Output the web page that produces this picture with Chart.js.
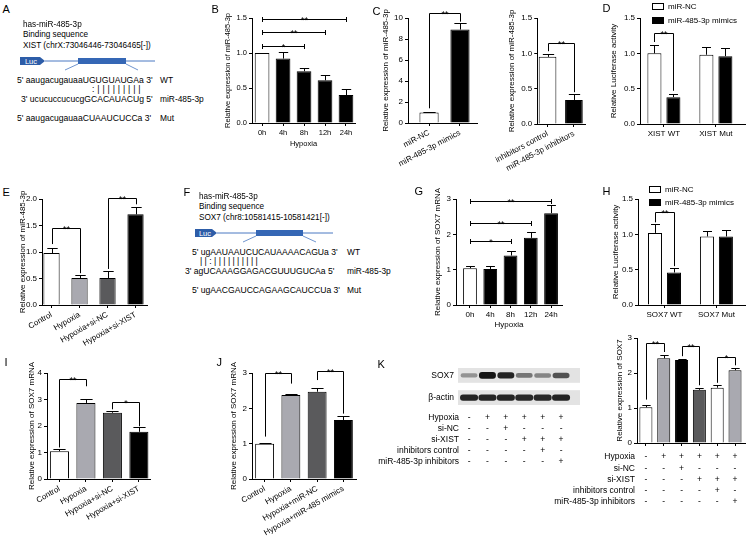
<!DOCTYPE html>
<html lang="en">
<head>
<meta charset="UTF-8">
<title>miR-485-3p / XIST / SOX7 figure</title>
<script src="https://cdn.jsdelivr.net/npm/chart.js"></script>
<style>
  body { margin: 0; background: #fff; }
  #fig { position: relative; width: 750px; height: 539px; overflow: hidden; background: #fff;
         font-family: "Liberation Sans", Arial, sans-serif; color: #000; }
  #fig canvas { position: absolute; }
  .t { position: absolute; white-space: nowrap; line-height: 1; }
  svg { position: absolute; left: 0; top: 0; }
</style>
</head>
<body>
<div id="fig">
  <svg width="750" height="539" font-family="Liberation Sans, Arial, sans-serif">
    <!-- A construct -->
    <line x1="45" y1="61" x2="155" y2="61" stroke="#4a78c2" stroke-width="1"/>
    <rect x="78" y="58" width="48" height="6" fill="#3567b5"/>
    <line x1="78" y1="64" x2="65" y2="70" stroke="#4a78c2" stroke-width="0.8"/>
    <line x1="126" y1="64" x2="138" y2="70" stroke="#4a78c2" stroke-width="0.8"/>
    <polygon points="20,57 40,57 45,61 40,65 20,65" fill="#2d5da8"/>
    <text x="31" y="63.8" font-size="7.5" fill="#fff" text-anchor="middle">Luc</text>
    <!-- F construct -->
    <line x1="217" y1="233" x2="333" y2="233" stroke="#4a78c2" stroke-width="1"/>
    <rect x="256" y="230" width="47" height="6" fill="#3567b5"/>
    <line x1="256" y1="236" x2="243" y2="242" stroke="#4a78c2" stroke-width="0.8"/>
    <line x1="303" y1="236" x2="316" y2="242" stroke="#4a78c2" stroke-width="0.8"/>
    <polygon points="195,229 212,229 217,233 212,237 195,237" fill="#2d5da8"/>
    <text x="205" y="235.8" font-size="7.5" fill="#fff" text-anchor="middle">Luc</text>
  </svg>
</div>
<script>
// ---------------- data ----------------
const WHITE = '#ffffff', LIGHT = '#a9a9b0', DARK = '#5a5a5c', BLACK = '#000000';

// B: miR-485-3p over hypoxia time
const bCats = ['0h', '4h', '8h', '12h', '24h'];
const bMean = [1.00, 0.92, 0.74, 0.61, 0.40];
const bErr = [0, 0.10, 0.05, 0.08, 0.09];
const bTicks = [0, 0.5, 1.0, 1.5];
const bSig = [
  { a: 0, b: 2, y: 1.10, t: '*' },
  { a: 0, b: 3, y: 1.30, t: '**' },
  { a: 0, b: 4, y: 1.49, t: '**' }
];

// C (left): mimics
const c1Cats = ['miR-NC', 'miR-485-3p mimics'];
const c1Mean = [1.0, 8.9];
const c1Err = [0.08, 0.6];
const c1Ticks = [0, 2, 4, 6, 8, 10];
const c1Sig = [{ a: 0, b: 1, y: 10.5, la: 1.4, lb: 9.65, t: '**' }];

// C (right): inhibitors
const c2Cats = ['inhibitors control', 'miR-485-3p inhibitors'];
const c2Mean = [0.95, 0.34];
const c2Err = [0.04, 0.08];
const c2Ticks = [0, 0.5, 1.0, 1.5];
const c2Sig = [{ a: 0, b: 1, y: 1.15, la: 1.03, lb: 0.45, t: '**' }];

// D: XIST luciferase
const dCats = ['XIST WT', 'XIST Mut'];
const dNC = [1.00, 0.98];
const dNCErr = [0.12, 0.11];
const dMim = [0.38, 0.96];
const dMimErr = [0.05, 0.11];
const lucTicks = [0, 0.5, 1.0, 1.5];
const dSig = [{ a: [0, 0], b: [1, 0], y: 1.29, la: 1.16, lb: 0.47, t: '**' }];

// E: miR-485-3p with si-XIST
const eCats = ['Control', 'Hypoxia', 'Hypoxia+si-NC', 'Hypoxia+si-XIST'];
const eMean = [0.98, 0.51, 0.51, 1.71];
const eErr = [0.09, 0.05, 0.13, 0.14];
const eTicks = [0, 0.5, 1.0, 1.5, 2.0];
const eSig = [
  { a: 0, b: 1, y: 1.45, la: 1.15, lb: 0.60, t: '**' },
  { a: 2, b: 3, y: 2.02, la: 0.68, lb: 1.90, t: '**' }
];

// G: SOX7 mRNA over hypoxia time
const gCats = ['0h', '4h', '8h', '12h', '24h'];
const gMean = [1.04, 1.02, 1.40, 1.90, 2.60];
const gErr = [0.06, 0.07, 0.13, 0.16, 0.22];
const gTicks = [0, 1, 2, 3];
const gSig = [
  { a: 0, b: 2, y: 1.80, t: '*' },
  { a: 0, b: 3, y: 2.33, t: '**' },
  { a: 0, b: 4, y: 2.95, t: '**' }
];

// H: SOX7 luciferase
const hCats = ['SOX7 WT', 'SOX7 Mut'];
const hNC = [1.02, 0.97];
const hNCErr = [0.12, 0.08];
const hMim = [0.46, 0.97];
const hMimErr = [0.06, 0.09];
const hSig = [{ a: [0, 0], b: [1, 0], y: 1.32, la: 1.17, lb: 0.55, t: '**' }];

// I: SOX7 mRNA with si-XIST
const iCats = ['Control', 'Hypoxia', 'Hypoxia+si-NC', 'Hypoxia+si-XIST'];
const iMean = [1.05, 2.87, 2.50, 1.78];
const iErr = [0.10, 0.16, 0.07, 0.20];
const iTicks = [0, 1, 2, 3, 4];
const iSig = [
  { a: 0, b: 1, y: 3.78, la: 1.19, lb: 3.50, t: '**' },
  { a: 2, b: 3, y: 2.90, la: 2.63, lb: 1.99, t: '*' }
];

// J: SOX7 mRNA with miR-485 mimics
const jCats = ['Control', 'Hypoxia', 'Hypoxia+miR-NC', 'Hypoxia+miR-485 mimics'];
const jMean = [1.00, 2.38, 2.47, 1.67];
const jErr = [0.03, 0.03, 0.10, 0.10];
const jTicks = [0, 1, 2, 3];
const jSig = [
  { a: 0, b: 1, y: 3.00, la: 1.20, lb: 2.70, t: '**' },
  { a: 2, b: 3, y: 3.05, la: 2.80, lb: 1.85, t: '**' }
];

// K: SOX7 protein
const kMean = [1.02, 2.42, 2.37, 1.52, 1.58, 2.08];
const kErr = [0.08, 0.10, 0.03, 0.06, 0.09, 0.07];
const kTicks = [0, 1, 2, 3];
const kSig = [
  { a: 0, b: 1, y: 2.86, la: 1.24, lb: 2.60, t: '**' },
  { a: 2, b: 3, y: 2.76, la: 2.48, lb: 1.65, t: '**' },
  { a: 4, b: 5, y: 2.45, la: 1.72, lb: 2.22, t: '*' }
];
const kRowNames = ['Hypoxia', 'si-NC', 'si-XIST', 'inhibitors control', 'miR-485-3p inhibitors'];
const kSigns = [
  ['-', '+', '+', '+', '+', '+'],
  ['-', '-', '+', '-', '-', '-'],
  ['-', '-', '-', '+', '+', '+'],
  ['-', '-', '-', '-', '+', '-'],
  ['-', '-', '-', '-', '-', '+']
];
// western blot band strength per lane (0..1)
const sox7Level = [0.35, 1.00, 0.92, 0.50, 0.42, 0.68];
const actinLevel = [0.92, 0.92, 0.92, 0.90, 0.90, 0.92];

// ---------------- helpers ----------------
const FONT = '"Liberation Sans", Arial, sans-serif';
Chart.defaults.font.family = FONT;
Chart.defaults.font.size = 8;
Chart.defaults.color = '#000';
Chart.defaults.animation = false;

const fig = document.getElementById('fig');
const decoMap = {};
let nCanvas = 0;

function makeCanvas(left, top, w, h) {
  const c = document.createElement('canvas');
  c.id = 'cv' + (nCanvas++);
  c.width = w; c.height = h;
  c.style.left = left + 'px'; c.style.top = top + 'px';
  c.style.width = w + 'px'; c.style.height = h + 'px';
  fig.appendChild(c);
  return c;
}

function text(x, cy, s, size, extra) {
  const d = document.createElement('div');
  d.className = 't';
  d.textContent = s;
  d.style.left = x + 'px';
  d.style.top = (cy - size * 0.52) + 'px';
  d.style.fontSize = size + 'px';
  if (extra) Object.assign(d.style, extra);
  fig.appendChild(d);
}

function barX(chart, ref) {
  const [ds, i] = Array.isArray(ref) ? ref : [0, ref];
  return chart.getDatasetMeta(ds).data[i].x;
}

const decoPlugin = {
  id: 'deco',
  beforeDatasetsDraw(chart) {
    const d = decoMap[chart.canvas.id];
    if (!d || !d.strips) return;
    const ctx = chart.ctx, ys = chart.scales.y, area = chart.chartArea;
    ctx.save();
    ctx.fillStyle = d.stripColor;
    d.strips.forEach(([lo, hi]) => {
      const y1 = ys.getPixelForValue(hi), y2 = ys.getPixelForValue(lo);
      ctx.fillRect(area.left, y1, area.right - area.left, y2 - y1);
    });
    ctx.restore();
    ctx.save();
    ctx.filter = 'blur(0.7px)';
  },
  afterDatasetsDraw(chart) {
    const d = decoMap[chart.canvas.id];
    if (!d) return;
    const ctx = chart.ctx, ys = chart.scales.y;
    if (d.strips) ctx.restore();
    ctx.save();
    ctx.strokeStyle = '#000';
    ctx.fillStyle = '#000';
    ctx.lineWidth = 1;

    // error bars (upper half only, as in the original)
    chart.data.datasets.forEach((ds, di) => {
      if (!ds.errors) return;
      chart.getDatasetMeta(di).data.forEach((bar, i) => {
        const e = ds.errors[i];
        if (!e) return;
        const x = Math.round(bar.x) + 0.5;
        const top = Math.round(ys.getPixelForValue(ds.data[i].y + e)) + 0.5;
        const cap = bar.width * 0.32;
        ctx.beginPath();
        ctx.moveTo(x, bar.y); ctx.lineTo(x, top);
        ctx.moveTo(x - cap, top); ctx.lineTo(x + cap, top);
        ctx.stroke();
      });
    });

    // significance brackets
    (d.sig || []).forEach(s => {
      const xa = Math.round(barX(chart, s.a)) + 0.5;
      const xb = Math.round(barX(chart, s.b)) + 0.5;
      const y = Math.round(ys.getPixelForValue(s.y)) + 0.5;
      ctx.beginPath();
      if (s.la !== undefined) {
        ctx.moveTo(xa, ys.getPixelForValue(s.la));
        ctx.lineTo(xa, y); ctx.lineTo(xb, y);
        ctx.lineTo(xb, ys.getPixelForValue(s.lb));
      } else {
        ctx.moveTo(xa, y); ctx.lineTo(xb, y);
        ctx.moveTo(xa, y - 2.5); ctx.lineTo(xa, y + 2.5);
        ctx.moveTo(xb, y - 2.5); ctx.lineTo(xb, y + 2.5);
      }
      ctx.stroke();
      ctx.font = '9px ' + FONT;
      ctx.textAlign = 'center';
      ctx.textBaseline = 'alphabetic';
      ctx.fillText(s.t, (xa + xb) / 2, y + 3);
    });

    // legend list
    if (d.legend) {
      ctx.font = '8px ' + FONT;
      ctx.textAlign = 'left';
      ctx.textBaseline = 'middle';
      chart.data.datasets.forEach((ds, i) => {
        const bx = d.legend.x - d.left + 0.5;
        const by = Math.round(d.legend.y + i * d.legend.dy - d.top);
        ctx.fillStyle = ds.backgroundColor[0];
        ctx.fillRect(bx, by - 3, 11, 7);
        ctx.strokeRect(bx, by - 2.5, 11, 6);
        ctx.fillStyle = '#000';
        ctx.fillText(ds.label, d.legend.x - d.left + 16, by + 0.5);
      });
    }

    // row labels (blot)
    if (d.rowLabels) {
      ctx.font = '8.5px ' + FONT;
      ctx.textAlign = 'right';
      ctx.textBaseline = 'middle';
      d.rowLabels.forEach(r => ctx.fillText(r.text, d.labelRight - d.left, r.y - d.top));
    }

    // +/- treatment table
    if (d.table) {
      const tb = d.table, xs = chart.scales.x;
      ctx.font = '8.5px ' + FONT;
      ctx.textBaseline = 'middle';
      tb.names.forEach((name, r) => {
        const y = tb.ys[r] - d.top;
        ctx.textAlign = 'right';
        ctx.fillText(name, tb.right - d.left, y);
        ctx.textAlign = 'center';
        tb.signs[r].forEach((sg, c) => ctx.fillText(sg, xs.getPixelForValue(c), y));
      });
    }
    ctx.restore();
  }
};
Chart.register(decoPlugin);

function barPanel(o) {
  const [l, t, r, b] = o.plot;
  const fs = o.fs || 8;
  const lh = fs * 1.2;
  const padL = o.padL ?? 3, padT = o.padT ?? 14, padR = o.padR ?? 3, padB = o.padB ?? 3;
  const left = Math.round(o.titleX - lh / 2) - padL;
  const top = t - padT;
  const yW = l - left - padL;
  const w = r + padR - left, h = b + o.xH + padB - top;
  const canvas = makeCanvas(left, top, w, h);
  decoMap[canvas.id] = { left, top, sig: o.sig, legend: o.legend, table: o.table };

  const datasets = o.series.map(s => ({
    label: s.label || '',
    data: s.values.map((v, i) => ({ x: i, y: v })),
    errors: s.errors,
    backgroundColor: s.colors,
    borderColor: '#000',
    borderWidth: 1,
    categoryPercentage: o.catPct ?? 1,
    barPercentage: o.barPct
  }));

  new Chart(canvas, {
    type: 'bar',
    data: { datasets },
    options: {
      responsive: false,
      animation: false,
      layout: { padding: { left: padL, top: padT, right: padR, bottom: padB } },
      plugins: { legend: { display: false }, tooltip: { enabled: false } },
      scales: {
        x: {
          type: 'linear',
          min: o.xRange[0], max: o.xRange[1],
          offset: false,
          afterBuildTicks: s => { s.ticks = o.cats.map((c, i) => ({ value: i })); },
          afterFit: s => { s.height = o.xH; },
          ticks: {
            autoSkip: false,
            maxRotation: o.rot || 0, minRotation: o.rot || 0,
            padding: 2,
            font: { size: fs },
            callback: (v, i) => o.cats[i]
          },
          grid: { drawOnChartArea: false, offset: false, color: '#000', tickLength: 3 },
          border: { color: '#000', width: 1 },
          title: o.xTitle ? { display: true, text: o.xTitle, padding: 0, font: { size: fs } } : { display: false }
        },
        y: {
          min: 0, max: o.ticks[o.ticks.length - 1],
          afterBuildTicks: s => { s.ticks = o.ticks.map(v => ({ value: v })); },
          afterFit: s => { s.width = yW; },
          ticks: { padding: 2, font: { size: fs }, callback: v => v.toFixed(o.dec) },
          grid: { drawOnChartArea: false, color: '#000', tickLength: 3 },
          border: { color: '#000', width: 1 },
          title: { display: true, text: o.yTitle, padding: 0, font: { size: fs } }
        }
      }
    }
  });
}

function blotPanel() {
  const l = 458, t = 368, r = 580, b = 405;
  const left = 366, top = 360, w = 220, h = 110;
  const canvas = makeCanvas(left, top, w, h);
  decoMap[canvas.id] = {
    left, top,
    strips: [[0, 2], [3, 5]], stripColor: '#e3e3e3',
    rowLabels: [{ text: 'SOX7', y: 375.5 }, { text: '\u03b2-actin', y: 397.5 }],
    labelRight: 454,
    table: { names: kRowNames, signs: kSigns, ys: [418, 429, 440, 451, 462], right: 459 }
  };
  const shade = v => { const g = Math.round(215 - 195 * v); return `rgb(${g},${g},${g})`; };
  const band = (level, center) => level.map((v, i) => {
    const half = 0.2 + 0.25 * v;
    return { x: i, y: [center - half, center + half] };
  });
  new Chart(canvas, {
    type: 'bar',
    data: {
      datasets: [
        { data: band(sox7Level, 4), backgroundColor: sox7Level.map(shade), borderWidth: 0,
          borderRadius: 3, borderSkipped: false, grouped: false, categoryPercentage: 1, barPercentage: 0.92 },
        { data: band(actinLevel, 1), backgroundColor: actinLevel.map(shade), borderWidth: 0,
          borderRadius: 3, borderSkipped: false, grouped: false, categoryPercentage: 1, barPercentage: 0.98 }
      ]
    },
    options: {
      responsive: false,
      animation: false,
      layout: { padding: { left: l - left, top: t - top, right: left + w - r, bottom: top + h - b } },
      plugins: { legend: { display: false }, tooltip: { enabled: false } },
      scales: {
        x: { type: 'linear', display: false, min: -0.6, max: 6.03, offset: false },
        y: { display: false, min: 0, max: 5 }
      }
    }
  });
}

// ---------------- panels ----------------
const relMiR = 'Relative expression of miR-485-3p';
const relSox = 'Relative expression of SOX7 mRNA';
const relLuc = 'Relative Luciferase activity';

barPanel({ plot: [252, 18, 355, 123], titleX: 227, fs: 7.5, yTitle: relMiR, ticks: bTicks, dec: 1,
  cats: bCats, xRange: [-0.48, 4.43], barPct: 0.7, xH: 25, xTitle: 'Hypoxia',
  series: [{ values: bMean, errors: bErr, colors: [WHITE, BLACK, BLACK, BLACK, BLACK] }], sig: bSig });

barPanel({ plot: [408, 18, 477, 123], titleX: 386, yTitle: relMiR, ticks: c1Ticks, dec: 0,
  cats: c1Cats, xRange: [-0.68, 1.55], barPct: 0.62, rot: 28, xH: 46,
  series: [{ values: c1Mean, errors: c1Err, colors: [WHITE, BLACK] }], sig: c1Sig });

barPanel({ plot: [520, 18, 585, 124], titleX: 495, yTitle: relMiR, ticks: c2Ticks, dec: 1,
  cats: c2Cats, xRange: [-0.39, 1.42], barPct: 0.67, rot: 28, xH: 52,
  series: [{ values: c2Mean, errors: c2Err, colors: [WHITE, BLACK] }], sig: c2Sig });

barPanel({ plot: [640, 18, 745, 124], titleX: 614, yTitle: relLuc, ticks: lucTicks, dec: 1,
  cats: dCats, xRange: [-0.46, 1.56], catPct: 0.73, barPct: 0.74, xH: 15, padT: 17,
  series: [
    { label: 'miR-NC', values: dNC, errors: dNCErr, colors: [WHITE, WHITE] },
    { label: 'miR-485-3p mimics', values: dMim, errors: dMimErr, colors: [BLACK, BLACK] }
  ], sig: dSig, legend: { x: 652, y: 6, dy: 14 } });

barPanel({ plot: [42, 199, 147, 305], titleX: 23, yTitle: relMiR, ticks: eTicks, dec: 1,
  cats: eCats, xRange: [-0.34, 3.41], barPct: 0.58, rot: 30, xH: 52,
  series: [{ values: eMean, errors: eErr, colors: [WHITE, LIGHT, DARK, BLACK] }], sig: eSig });

barPanel({ plot: [456, 199, 562, 305], titleX: 438, yTitle: relSox, ticks: gTicks, dec: 0,
  cats: gCats, xRange: [-0.69, 4.54], barPct: 0.68, xH: 25, xTitle: 'Hypoxia',
  series: [{ values: gMean, errors: gErr, colors: [WHITE, BLACK, BLACK, BLACK, BLACK] }], sig: gSig });

barPanel({ plot: [638, 199, 745, 305], titleX: 616, yTitle: relLuc, ticks: lucTicks, dec: 1,
  cats: hCats, xRange: [-0.51, 1.55], catPct: 0.73, barPct: 0.74, xH: 15, padT: 16,
  series: [
    { label: 'miR-NC', values: hNC, errors: hNCErr, colors: [WHITE, WHITE] },
    { label: 'miR-485-3p mimics', values: hMim, errors: hMimErr, colors: [BLACK, BLACK] }
  ], sig: hSig, legend: { x: 649, y: 189, dy: 12.5 } });

barPanel({ plot: [47, 373, 150, 479], titleX: 32, yTitle: relSox, ticks: iTicks, dec: 0,
  cats: iCats, xRange: [-0.47, 3.42], barPct: 0.72, rot: 30, xH: 54,
  series: [{ values: iMean, errors: iErr, colors: [WHITE, LIGHT, DARK, BLACK] }], sig: iSig });

barPanel({ plot: [252, 373, 356, 479], titleX: 234, yTitle: relSox, ticks: jTicks, dec: 0,
  cats: jCats, xRange: [-0.48, 3.48], barPct: 0.72, rot: 30, xH: 58,
  series: [{ values: jMean, errors: jErr, colors: [WHITE, LIGHT, DARK, BLACK] }], sig: jSig });

barPanel({ plot: [637, 338, 745, 443], titleX: 620, yTitle: 'Relative expression of SOX7', ticks: kTicks, dec: 0,
  cats: ['', '', '', '', '', ''], xRange: [-0.5, 5.56], barPct: 0.73, xH: 4, padL: 80, padB: 64,
  series: [{ values: kMean, errors: kErr, colors: [WHITE, LIGHT, BLACK, DARK, WHITE, LIGHT] }], sig: kSig,
  table: { names: kRowNames, signs: kSigns, ys: [457, 468.5, 480, 491, 502], right: 635 } });

blotPanel();

// ---------------- diagrams and panel letters ----------------
[['A', 3, 5], ['B', 212, 5], ['C', 373, 7], ['D', 603, 4], ['E', 3, 188], ['F', 184, 188],
 ['G', 415, 187], ['H', 603, 187], ['I', 5, 358], ['J', 217, 358], ['K', 378, 360]]
  .forEach(([s, x, y]) => text(x - 0.5, y + 4.5, s, 11));

text(23, 25, 'has-miR-485-3p', 8.2);
text(23, 35.5, 'Binding sequence', 8.2);
text(23, 46, 'XIST (chrX:73046446-73046465[-])', 8.2);
text(17, 80, "5' aaugacugauaaUGUGUAUGAa 3'", 8.6);
text(160, 80, 'WT', 8.4);
text(92, 89.5, ':|||||||||', 8.6, { letterSpacing: '2.9px' });
text(21, 99, "3' ucucuccucucgGCACAUACUg 5'", 8.6);
text(160, 99, 'miR-485-3p', 8.4);
text(17, 118, "5' aaugacugauaaCUAAUCUCCa 3'", 8.6);
text(160, 118, 'Mut', 8.4);

text(199, 197, 'has-miR-485-3p', 8.2);
text(199, 207.5, 'Binding sequence', 8.2);
text(199, 218, 'SOX7 (chr8:10581415-10581421[-])', 8.2);
text(192, 252, "5' ugAAUAAUCUCAUAAAACAGUa 3'", 8.6);
text(347, 252, 'WT', 8.4);
text(200, 261.5, '|  |    :  |  |  |        |  |  |  |  |  |  |', 8.6);
text(185, 271, "3' agUCAAAGGAGACGUUUGUCAa 5'", 8.6);
text(347, 271, 'miR-485-3p', 8.4);
text(192, 290, "5' ugAACGAUCCAGAAGCAUCCUa 3'", 8.6);
text(347, 290, 'Mut', 8.4);
</script>
</body>
</html>
